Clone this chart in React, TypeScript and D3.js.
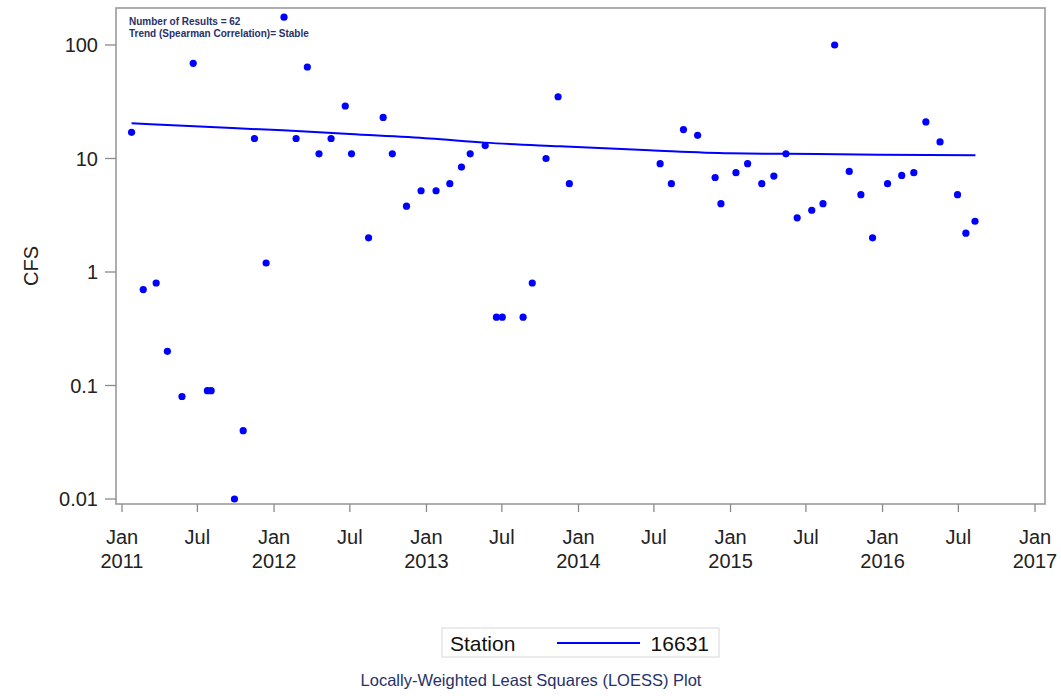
import React from "react";
import * as d3 from "d3";

// ---- Data ----
const sampleDates: string[] = [
  "2011-01-24", "2011-02-21", "2011-03-24", "2011-04-20", "2011-05-25", "2011-06-21",
  "2011-07-25", "2011-08-03", "2011-09-28", "2011-10-19", "2011-11-15", "2011-12-13",
  "2012-01-25", "2012-02-23", "2012-03-21", "2012-04-18", "2012-05-17", "2012-06-20",
  "2012-07-05", "2012-08-15", "2012-09-19", "2012-10-11", "2012-11-14", "2012-12-19",
  "2013-01-24", "2013-02-26", "2013-03-26", "2013-04-16", "2013-05-22", "2013-06-18",
  "2013-07-02", "2013-08-21", "2013-09-12", "2013-10-15", "2013-11-13", "2013-12-10",
  "2014-07-16", "2014-08-12", "2014-09-10", "2014-10-14", "2014-11-25", "2014-12-09",
  "2015-01-14", "2015-02-11", "2015-03-17", "2015-04-15", "2015-05-14", "2015-06-10",
  "2015-07-15", "2015-08-11", "2015-09-08", "2015-10-13", "2015-11-10", "2015-12-08",
  "2016-01-13", "2016-02-16", "2016-03-16", "2016-04-14", "2016-05-18", "2016-06-29",
  "2016-07-19", "2016-08-10",
];
const cfsValues: number[] = [
  17, 0.7, 0.8, 0.2, 0.08, 69,
  0.09, 0.09, 0.01, 0.04, 15, 1.2,
  176, 15, 64, 11, 15, 29,
  11, 2.0, 23, 11, 3.8, 5.2,
  5.2, 6.0, 8.4, 11, 13, 0.4,
  0.4, 0.4, 0.8, 10, 35, 6.0,
  9.0, 6.0, 18, 16, 6.8, 4.0,
  7.5, 9.0, 6.0, 7.0, 11, 3.0,
  3.5, 4.0, 100, 7.7, 4.8, 2.0,
  6.0, 7.1, 7.5, 21, 14, 4.8,
  2.2, 2.8,
];
const loessDates: string[] = [
  "2011-01-24", "2011-07-07", "2012-01-22", "2012-07-01", "2013-01-09", "2013-05-21",
  "2013-11-17", "2014-06-21", "2014-12-30", "2015-05-14", "2015-12-25", "2016-08-11",
];
const loessValues: number[] = [20.4, 19.1, 17.7, 16.4, 15.0, 13.8, 12.8, 11.8, 11.1, 11.0, 10.8, 10.7];

const yTickValues: number[] = [0.01, 0.1, 1, 10, 100];
const yTickLabels: string[] = ["0.01", "0.1", "1", "10", "100"];
const xTickDates: string[] = [
  "2011-01-01", "2011-07-01", "2012-01-01", "2012-07-01", "2013-01-01", "2013-07-01",
  "2014-01-01", "2014-07-01", "2015-01-01", "2015-07-01", "2016-01-01", "2016-07-01", "2017-01-01",
];

const stationName = "16631";
const annotationLines: string[] = ["Number of Results = 62", "Trend (Spearman Correlation)= Stable"];
const captionText = "Locally-Weighted Least Squares (LOESS) Plot";

// ---- Layout ----
const W = 1061;
const H = 696;
const frame = { left: 116, right: 1045, top: 8, bottom: 504 };
const FONT = "'Liberation Sans', Arial, Helvetica, sans-serif";
const BLUE = "#0000ff";
const NAVY = "#27306a";

const parse = d3.utcParse("%Y-%m-%d");

export default function App() {
  const x = d3
    .scaleUtc()
    .domain([parse("2010-12-21")!, parse("2017-01-25")!])
    .range([frame.left, frame.right]);
  // calibrate: Jan 2011 -> 122, Jan 2017 -> 1035
  const xs = d3
    .scaleUtc()
    .domain([parse("2011-01-01")!, parse("2017-01-01")!])
    .range([122, 1035]);
  void x;
  const y = d3.scaleLog().domain([0.01, 100]).range([499, 45]);

  const points = sampleDates.map((d, i) => ({ date: parse(d)!, v: cfsValues[i] }));
  const loess = loessDates.map((d, i) => ({ date: parse(d)!, v: loessValues[i] }));
  const line = d3
    .line<{ date: Date; v: number }>()
    .x((d) => xs(d.date))
    .y((d) => y(d.v))
    .curve(d3.curveMonotoneX);

  const monthFmt = d3.utcFormat("%b");
  const yearFmt = d3.utcFormat("%Y");

  return (
    <svg
      width={W}
      height={H}
      style={{ position: "absolute", left: 0, top: 0, background: "#fff" }}
      fontFamily={FONT}
    >
      <rect x={0} y={0} width={W} height={H} fill="#fff" />
      {/* frame */}
      <rect
        x={frame.left}
        y={frame.top}
        width={frame.right - frame.left}
        height={frame.bottom - frame.top}
        fill="#fff"
        stroke="#9a9a9a"
        strokeWidth={1.6}
      />
      {/* y ticks */}
      {yTickValues.map((v, i) => (
        <g key={"yt" + i}>
          <line x1={frame.left - 11} x2={frame.left} y1={y(v)} y2={y(v)} stroke="#8a8a8a" strokeWidth={1.3} />
          <text x={frame.left - 18} y={y(v) + 7} textAnchor="end" fontSize={20} fill="#222">
            {yTickLabels[i]}
          </text>
        </g>
      ))}
      <text
        transform={`translate(38,${(frame.top + frame.bottom) / 2 + 10}) rotate(-90)`}
        textAnchor="middle"
        fontSize={20}
        fill="#222"
      >
        CFS
      </text>
      {/* x ticks */}
      {xTickDates.map((d, i) => {
        const dt = parse(d)!;
        const px = xs(dt);
        const isJan = dt.getUTCMonth() === 0;
        return (
          <g key={"xt" + i}>
            <line x1={px} x2={px} y1={frame.bottom} y2={frame.bottom + 8} stroke="#8a8a8a" strokeWidth={1.3} />
            <text x={px} y={544} textAnchor="middle" fontSize={20} fill="#222">
              {monthFmt(dt)}
            </text>
            {isJan && (
              <text x={px} y={568} textAnchor="middle" fontSize={20} fill="#222">
                {yearFmt(dt)}
              </text>
            )}
          </g>
        );
      })}
      {/* annotation */}
      {annotationLines.map((t, i) => (
        <text key={"an" + i} x={129} y={25 + i * 11.5} fontSize={10} fontWeight="bold" fill={NAVY}>
          {t}
        </text>
      ))}
      {/* LOESS line */}
      <path d={line(loess) || ""} fill="none" stroke={BLUE} strokeWidth={2} />
      {/* points */}
      {points.map((p, i) => (
        <circle key={"p" + i} cx={xs(p.date)} cy={y(p.v)} r={3.6} fill={BLUE} />
      ))}
      {/* legend */}
      <rect x={442} y={628} width={277} height={29} fill="#fff" stroke="#d8d8d8" strokeWidth={1} />
      <text x={450} y={651} fontSize={21} fill="#111">
        Station
      </text>
      <line x1={557} x2={640} y1={643} y2={643} stroke={BLUE} strokeWidth={2} />
      <text x={709} y={651} textAnchor="end" fontSize={21} fill="#111">
        {stationName}
      </text>
      {/* caption */}
      <text x={531} y={686} textAnchor="middle" fontSize={16.5} fill={NAVY}>
        {captionText}
      </text>
    </svg>
  );
}
